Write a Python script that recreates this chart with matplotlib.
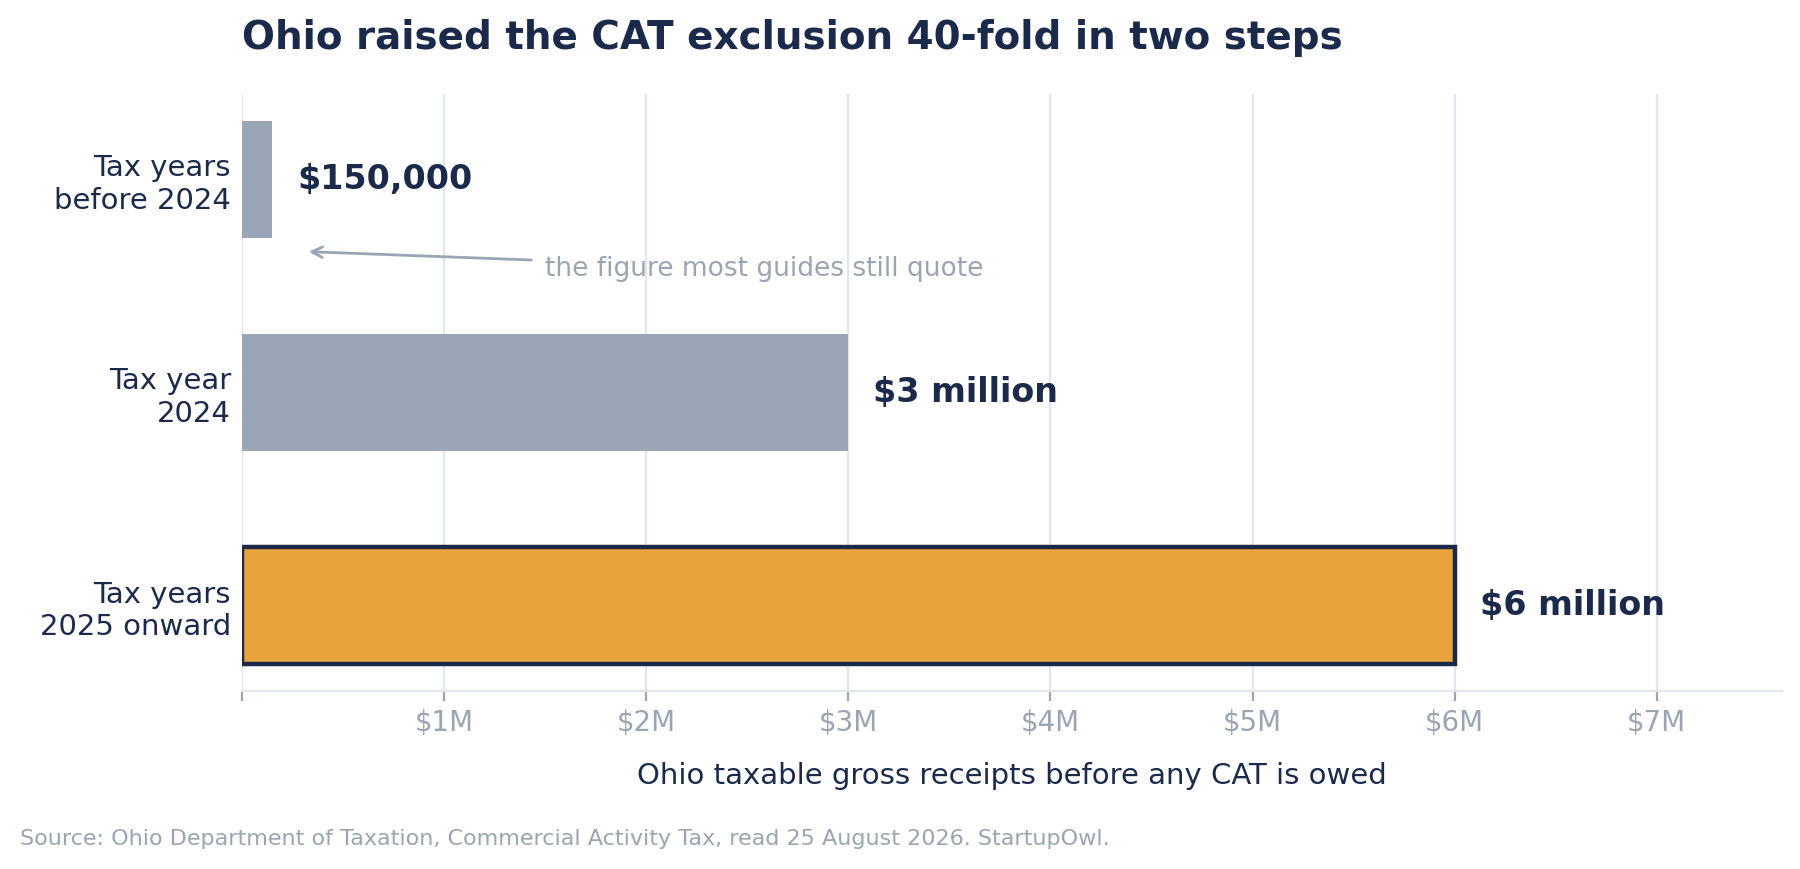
import matplotlib.pyplot as plt
from matplotlib.ticker import FuncFormatter

NAVY = '#1b2a4a'
GREY_BAR = '#9aa5b5'
ORANGE = '#e8a33d'
MUTED = '#9aa5b4'
GRID = '#e3e6ee'

categories = ['Tax years\nbefore 2024', 'Tax year\n2024', 'Tax years\n2025 onward']
exclusions = [150000, 3000000, 6000000]
bar_labels = ['$150,000', '$3 million', '$6 million']
bar_colors = [GREY_BAR, GREY_BAR, ORANGE]

fig = plt.figure(figsize=(9, 4.345), dpi=200)
ax = fig.add_axes([0.1345, 0.2048, 0.8555, 0.6872])

ypos = list(range(len(categories)))
bars = ax.barh(ypos, exclusions, height=0.55, color=bar_colors, zorder=2)
# highlight the current rule
bars[-1].set_edgecolor(NAVY)
bars[-1].set_linewidth(1.6)

for y, v, lab in zip(ypos, exclusions, bar_labels):
    ax.annotate(lab, xy=(v, y), xytext=(9, 0), textcoords='offset points',
                ha='left', va='center', fontsize=12, fontweight='bold', color=NAVY)

ax.annotate('the figure most guides still quote', xy=(0.33e6, 0.34), xytext=(1.5e6, 0.42),
            ha='left', va='center', fontsize=9.5, color=MUTED,
            arrowprops=dict(arrowstyle='->', color=MUTED, lw=1.0, shrinkA=3, shrinkB=0))

ax.set_yticks(ypos)
ax.set_yticklabels(categories, fontsize=10.5, color=NAVY)
ax.set_ylim(2.4, -0.4)
ax.set_xlim(0, 6e6 * 1.27)
ax.set_xticks([i * 1e6 for i in range(8)])
ax.xaxis.set_major_formatter(FuncFormatter(lambda v, p: '' if v == 0 else f'${v / 1e6:.0f}M'))
ax.tick_params(axis='x', colors=MUTED, labelsize=10, length=3.5, width=0.8, pad=3)
ax.tick_params(axis='y', length=0, pad=4)

ax.grid(axis='x', color=GRID, lw=0.8, zorder=0)
ax.set_axisbelow(True)
for s in ['top', 'right', 'left']:
    ax.spines[s].set_visible(False)
ax.spines['bottom'].set_color('#e1e5ec')
ax.spines['bottom'].set_linewidth(0.8)

ax.set_xlabel('Ohio taxable gross receipts before any CAT is owed', fontsize=10.5,
              color=NAVY, labelpad=9)

fig.text(0.1345, 0.956, 'Ohio raised the CAT exclusion 40-fold in two steps',
         fontsize=14, fontweight='bold', color=NAVY, ha='left', va='center')
fig.text(0.011, 0.034, 'Source: Ohio Department of Taxation, Commercial Activity Tax, read 25 August 2026. StartupOwl.',
         fontsize=8, color=MUTED, ha='left', va='center')

fig.savefig('out.png', dpi=200, facecolor='white')
